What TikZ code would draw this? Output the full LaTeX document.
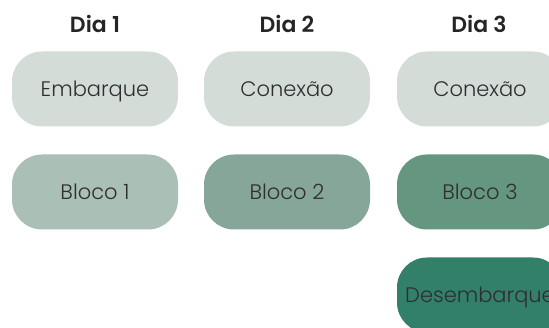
\documentclass[tikz,border=0pt]{standalone}
\usepackage{fontspec}
\setmainfont{Poppins}[UprightFont=* Light, BoldFont=* SemiBold]
\usepackage{tikz}
\usetikzlibrary{positioning}
\definecolor{conexao}{HTML}{D4DCD8}
\definecolor{blocoum}{HTML}{AABFB6}
\definecolor{blocodois}{HTML}{86A699}
\definecolor{blocotres}{HTML}{65967F}
\definecolor{saida}{HTML}{33806A}
\definecolor{texto}{HTML}{2E2E2E}

\begin{document}
\begin{tikzpicture}[x=1pt,y=1pt]
    \tikzstyle{dia} = [font=\fontsize{22}{26}\selectfont\bfseries, text=texto!80!black, text height=15.5pt, text depth=0pt]
    \tikzstyle{etapa} = [rectangle, rounded corners=30pt, minimum width=166pt, minimum height=75pt, inner sep=0pt, text=texto, font=\fontsize{21}{25}\selectfont, text height=14.7pt, text depth=0pt]
    \useasboundingbox (0,0) rectangle (549,328);
    \clip (0,0) rectangle (549,328);
    \node[dia] (d1) at (95,303.5) {Dia 1};
    \node[dia] (d2) at (287,303.5) {Dia 2};
    \node[dia] (d3) at (479,303.5) {Dia 3};
    \node[etapa, fill=conexao] (e1) at (95,239) {Embarque};
    \node[etapa, fill=conexao] (c2) at (287,239) {Conexão};
    \node[etapa, fill=conexao] (c3) at (480,239) {Conexão};
    \node[etapa, fill=blocoum] (b1) at (95,136) {Bloco 1};
    \node[etapa, fill=blocodois] (b2) at (287,136) {Bloco 2};
    \node[etapa, fill=blocotres] (b3) at (480,136) {Bloco 3};
    \node[etapa, fill=saida] (s3) at (480,33) {Desembarque};
\end{tikzpicture}
\end{document}
